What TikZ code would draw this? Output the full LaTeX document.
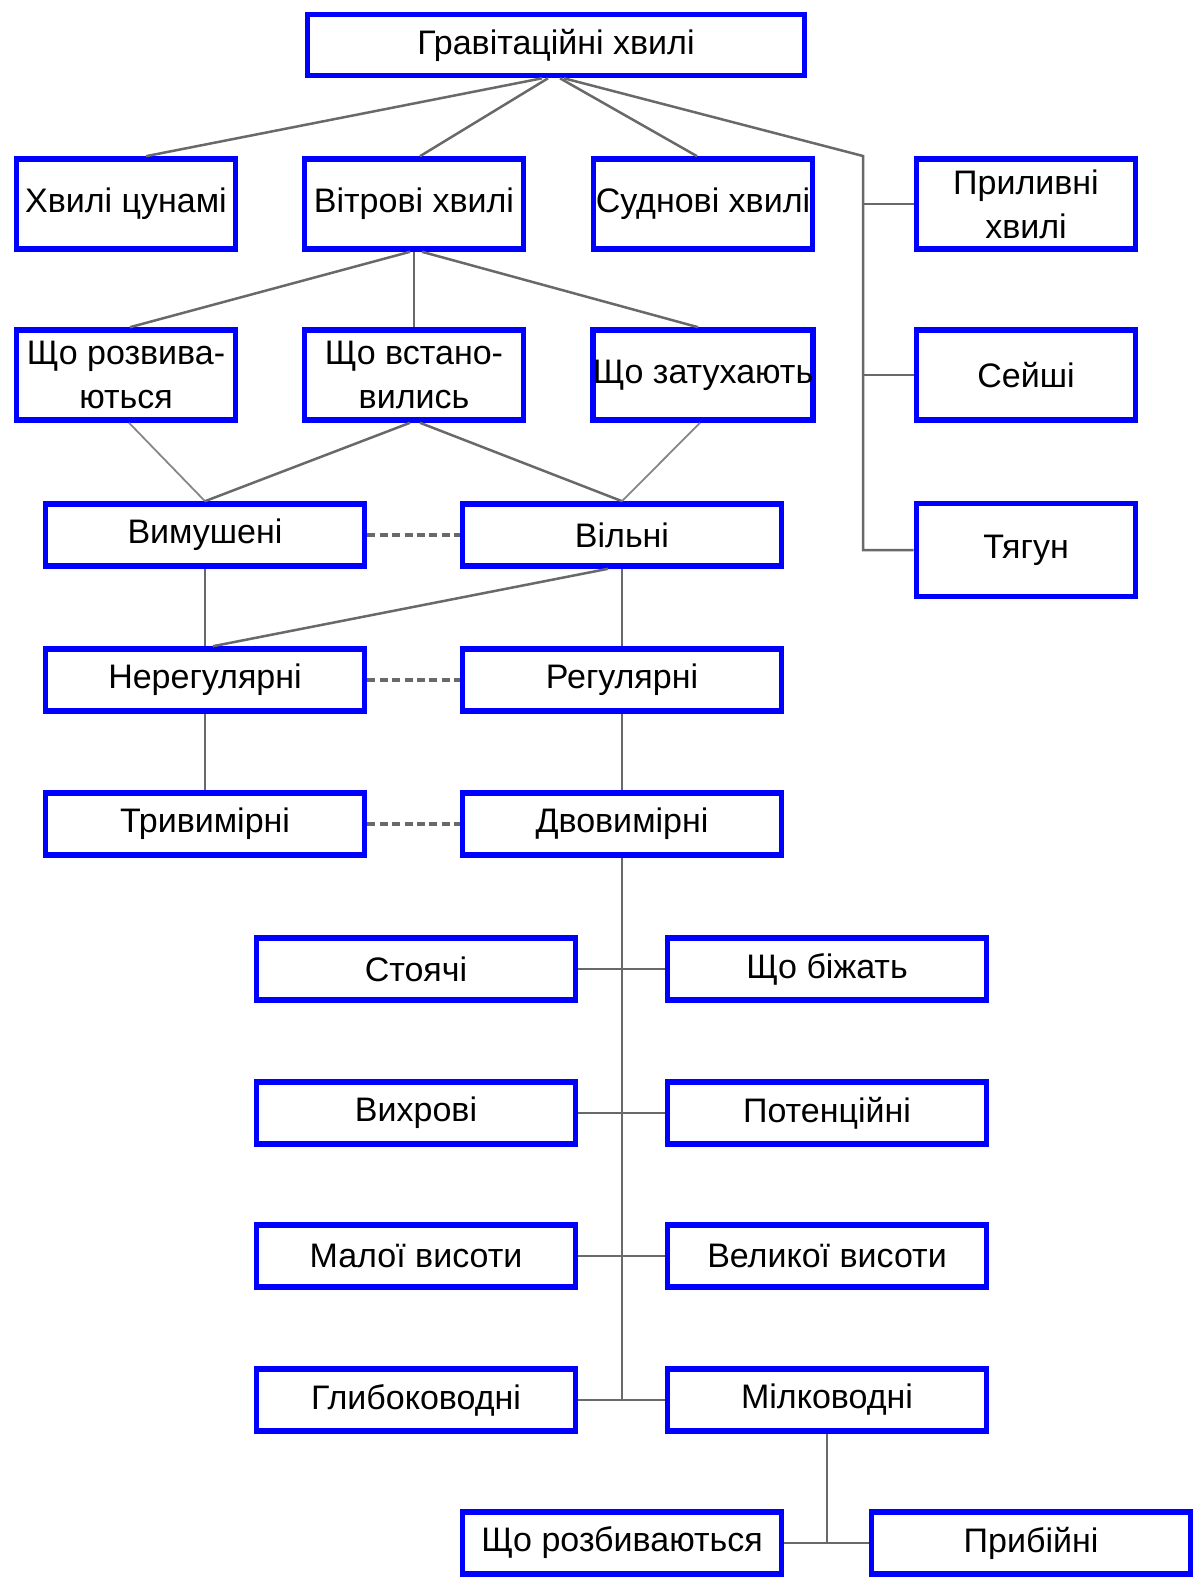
\documentclass[tikz,border=0pt]{standalone}
\usepackage{fontspec}
\setmainfont{Liberation Sans}
\usepackage{xcolor}
\usetikzlibrary{calc}
\definecolor{boxblue}{RGB}{0,0,255}
\definecolor{linkgray}{RGB}{105,105,105}

\begin{document}
\begin{tikzpicture}[x=0.5pt,y=0.5pt,yscale=-1,xscale=1,
        wbox/.style={draw=boxblue,line width=2.8pt,fill=white,inner sep=0pt,align=center,font=\fontsize{17}{22}\selectfont},
        smallbox/.style={wbox,minimum width=109.5pt,minimum height=45pt},
        widebox/.style={wbox,minimum width=159.5pt,minimum height=31pt},
        lnk/.style={draw=linkgray,line width=1.25pt},
        thinlnk/.style={draw=linkgray!80,line width=0.9pt},
        pairlnk/.style={lnk,line width=1.7pt,dash pattern=on 4pt off 2.2pt}]
        \useasboundingbox (0,0) rectangle (1195,1577);

        % Top
        \node[wbox,minimum width=248.5pt,minimum height=30.5pt] (grav) at (556,45) {Гравітаційні хвилі};

        % Row of kinds
        \node[smallbox] (tsunami) at (126,204) {Хвилі цунамі};
        \node[smallbox] (wind) at (414,204) {Вітрові хвилі};
        \node[smallbox] (ship) at (703,204) {Суднові хвилі};
        \node[smallbox] (tidal) at (1026,204) {Приливні\\хвилі};

        % Stages
        \node[smallbox] (devel) at (126,375) {Що розвива-\\ються};
        \node[smallbox] (steady) at (414,375) {Що встано-\\вились};
        \node[smallbox] (decay) at (703,375) {Що затухають};
        \node[smallbox] (seiche) at (1026,375) {Сейші};
        \node[smallbox,minimum height=46.5pt] (surge) at (1026,550) {Тягун};

        % Pairs, left and right
        \node[widebox] (forced) at (205,535) {Вимушені};
        \node[widebox] (free) at (622,535) {Вільні};
        \node[widebox] (irreg) at (205,680) {Нерегулярні};
        \node[widebox] (reg) at (622,680) {Регулярні};
        \node[widebox] (threed) at (205,824) {Тривимірні};
        \node[widebox] (twod) at (622,824) {Двовимірні};

        % Spine pairs
        \node[widebox] (standing) at (416,969) {Стоячі};
        \node[widebox] (running) at (827,969) {Що біжать};
        \node[widebox] (vortex) at (416,1113) {Вихрові};
        \node[widebox] (potent) at (827,1113) {Потенційні};
        \node[widebox] (low) at (416,1256) {Малої висоти};
        \node[widebox] (high) at (827,1256) {Великої висоти};
        \node[widebox] (deep) at (416,1400) {Глибоководні};
        \node[widebox] (shallow) at (827,1400) {Мілководні};
        \node[widebox] (breaking) at (622,1543) {Що розбиваються};
        \node[widebox] (surf) at (1031,1543) {Прибійні};

        % Links from top
        \coordinate (bustop) at (863,156);
        \draw[lnk] ($(grav.south)+(-14,0)$) -- ($(tsunami.north)+(20,0)$);
        \draw[lnk] ($(grav.south)+(-8,0)$) -- ($(wind.north)+(6,0)$);
        \draw[lnk] ($(grav.south)+(4,0)$) -- ($(ship.north)+(-6,0)$);
        \draw[lnk] ($(grav.south)+(8,0)$) -- (bustop) -- (bustop |- surge.west) -- (surge.west);
        \draw[lnk] (bustop |- tidal.west) -- (tidal.west);
        \draw[lnk] (bustop |- seiche.west) -- (seiche.west);

        % Links from wind waves
        \draw[lnk] ($(wind.south)+(-4,0)$) -- ($(devel.north)+(4,0)$);
        \draw[lnk] (wind.south) -- (steady.north);
        \draw[lnk] ($(wind.south)+(8,0)$) -- ($(decay.north)+(-5,0)$);
        \draw[thinlnk] ($(devel.south)+(3,0)$) -- (forced.north);
        \draw[lnk] ($(steady.south)+(-4,0)$) -- (forced.north);
        \draw[lnk] ($(steady.south)+(6,0)$) -- (free.north);
        \draw[thinlnk] ($(decay.south)+(-3,0)$) -- (free.north);

        % Pairs
        \draw[pairlnk] (forced) -- (free);
        \draw[lnk] (forced) -- (irreg);
        \draw[lnk] ($(free.south)+(-14,0)$) -- ($(irreg.north)+(8,0)$);
        \draw[lnk] (free) -- (reg);
        \draw[pairlnk] (irreg) -- (reg);
        \draw[lnk] (irreg) -- (threed);
        \draw[lnk] (reg) -- (twod);
        \draw[pairlnk] (threed) -- (twod);

        % Spine
        \draw[lnk] (twod.south) -- (twod.south |- deep.east);
        \draw[lnk] (standing) -- (running);
        \draw[lnk] (vortex) -- (potent);
        \draw[lnk] (low) -- (high);
        \draw[lnk] (deep) -- (shallow);
        \draw[lnk] (shallow) -- (shallow |- breaking.east);
        \draw[lnk] (breaking) -- (surf);
\end{tikzpicture}
\end{document}
